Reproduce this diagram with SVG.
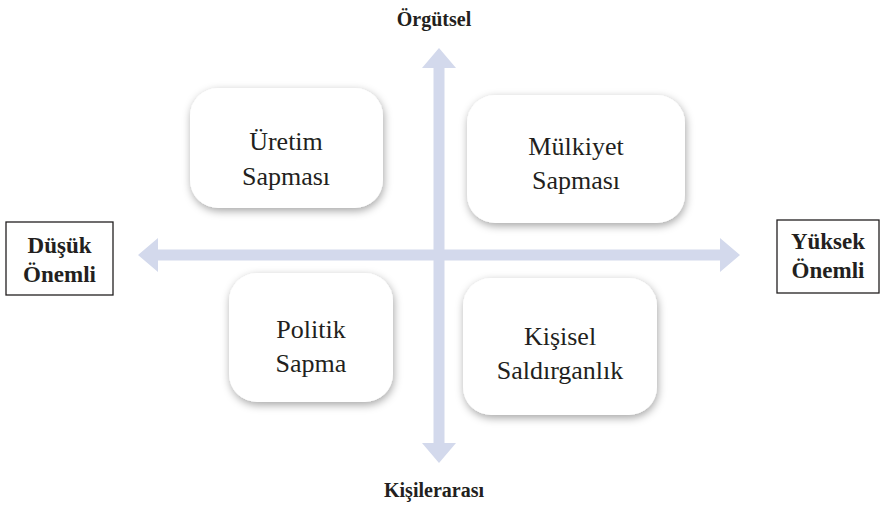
<svg xmlns="http://www.w3.org/2000/svg" width="881" height="506" viewBox="0 0 881 506">
  <defs>
    <filter id="shadow" x="-20%" y="-20%" width="140%" height="150%">
      <feDropShadow dx="1" dy="3" stdDeviation="4" flood-color="#000" flood-opacity="0.35"/>
    </filter>
  </defs>
  <style>
    text { font-family: "Liberation Serif", "Times New Roman", Times, "DejaVu Serif", serif; fill: #231f20; text-anchor: middle; }
    .node { fill: #ffffff; filter: url(#shadow); }
    .lbl { font-size: 26px; }
    .axis { font-size: 20px; font-weight: bold; }
    .side { font-size: 23px; font-weight: bold; }
    .frame { fill: #ffffff; stroke: #231f20; stroke-width: 1.3; }
    .arrow { fill: #d3d9ec; }
  </style>
  <rect width="881" height="506" fill="#ffffff"/>

  <!-- axes -->
  <g id="connectors">
    <polygon class="arrow" points="439,48 456,68 444.5,68 444.5,443 456,443 439,463 422,443 433.5,443 433.5,68 422,68"/>
    <polygon class="arrow" points="138,255 158,238 158,249.5 720,249.5 720,238 740,255 720,272 720,260.5 158,260.5 158,272"/>
  </g>

  <!-- axis labels -->
  <g id="top-label"><text class="axis" x="434" y="26">Örgütsel</text></g>
  <g id="bottom-label"><text class="axis" x="434" y="497">Kişilerarası</text></g>
  <g id="left-label">
    <rect class="frame" x="6" y="222" width="107" height="73"/>
    <text class="side" x="59.5" y="253">Düşük</text>
    <text class="side" x="59.5" y="282">Önemli</text>
  </g>
  <g id="right-label">
    <rect class="frame" x="777" y="220" width="102" height="73"/>
    <text class="side" x="828" y="249">Yüksek</text>
    <text class="side" x="828" y="278">Önemli</text>
  </g>

  <!-- quadrants -->
  <g id="uretim-sapmasi">
    <rect class="node" x="190" y="88" width="193" height="120" rx="28"/>
    <text class="lbl" x="286" y="150">Üretim</text>
    <text class="lbl" x="286" y="185">Sapması</text>
  </g>
  <g id="mulkiyet-sapmasi">
    <rect class="node" x="467" y="95" width="218" height="128" rx="28"/>
    <text class="lbl" x="576" y="155">Mülkiyet</text>
    <text class="lbl" x="576" y="189">Sapması</text>
  </g>
  <g id="politik-sapma">
    <rect class="node" x="229" y="273" width="164" height="129" rx="28"/>
    <text class="lbl" x="311" y="338">Politik</text>
    <text class="lbl" x="311" y="372">Sapma</text>
  </g>
  <g id="kisisel-saldirganlik">
    <rect class="node" x="463" y="278" width="194" height="137" rx="28"/>
    <text class="lbl" x="560" y="345">Kişisel</text>
    <text class="lbl" x="560" y="379">Saldırganlık</text>
  </g>
</svg>
